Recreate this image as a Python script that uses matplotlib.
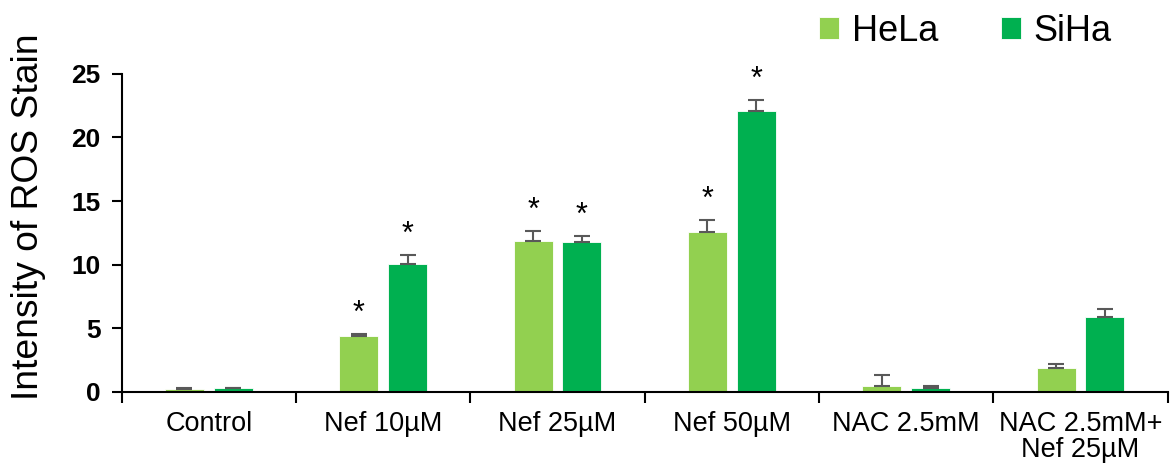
import matplotlib
matplotlib.use("Agg")
import matplotlib.pyplot as plt
import numpy as np

plt.rcParams["font.family"] = ["Liberation Sans", "DejaVu Sans"]

# data
groups = ["Control", "Nef 10µM", "Nef 25µM", "Nef 50µM", "NAC 2.5mM", "NAC 2.5mM+\nNef 25µM"]
hela = [0.25, 4.4, 11.85, 12.6, 0.5, 1.86]
hela_err = [0.05, 0.15, 0.8, 0.9, 0.85, 0.3]
siha = [0.3, 10.05, 11.8, 22.05, 0.35, 5.87]
siha_err = [0.05, 0.7, 0.45, 0.9, 0.15, 0.63]
hela_star = [False, True, True, True, False, False]
siha_star = [False, True, True, True, False, False]

c_hela = "#92D050"
c_siha = "#00B050"
err_col = "#595959"

fig = plt.figure(figsize=(11.7, 4.7), dpi=100)
ax = fig.add_axes([0.104, 0.166, 0.894, 0.677])

x = np.arange(len(groups))
w = 0.224
off = 0.14

ax.bar(x - off, hela, w, color=c_hela, edgecolor="white", linewidth=0.6, label="HeLa",
       yerr=[np.zeros(len(hela)), hela_err], error_kw=dict(ecolor=err_col, elinewidth=1.5, capsize=6, capthick=1.5))
ax.bar(x + off, siha, w, color=c_siha, edgecolor="white", linewidth=0.6, label="SiHa",
       yerr=[np.zeros(len(siha)), siha_err], error_kw=dict(ecolor=err_col, elinewidth=1.5, capsize=6, capthick=1.5))

# significance stars
for i in range(len(groups)):
    if hela_star[i]:
        ax.text(x[i] - off, hela[i] + hela_err[i] + 0.4, "*", ha="center", va="bottom", fontsize=22, clip_on=False)
    if siha_star[i]:
        ax.text(x[i] + off, siha[i] + siha_err[i] + 0.4, "*", ha="center", va="bottom", fontsize=22, clip_on=False)

ax.set_xlim(-0.5, len(groups) - 0.5)
ax.set_ylim(0, 25)
ax.set_yticks([0, 5, 10, 15, 20, 25])
ax.tick_params(axis="y", labelsize=19, width=1.5, length=7, pad=8)
for lab in ax.get_yticklabels():
    lab.set_fontweight("bold")

ax.set_xticks(x)
ax.set_xticklabels(groups, fontsize=19.5, linespacing=1.0)
ax.tick_params(axis="x", which="major", length=0, pad=14)
ax.set_xticks(np.arange(len(groups) + 1) - 0.5, minor=True)
ax.tick_params(axis="x", which="minor", length=8, width=1.5)

ax.set_ylabel("Intensity of ROS Stain", fontsize=26.8)
ax.yaxis.set_label_coords(-0.072, 0.55)

for s in ["top", "right"]:
    ax.spines[s].set_visible(False)
for s in ["left", "bottom"]:
    ax.spines[s].set_linewidth(1.5)

fig.legend(loc="upper right", bbox_to_anchor=(0.978, 1.04), ncol=2, frameon=False, fontsize=26,
           handlelength=0.55, handleheight=0.55, handletextpad=0.35, columnspacing=1.75)

fig.savefig("out.png", dpi=100)
